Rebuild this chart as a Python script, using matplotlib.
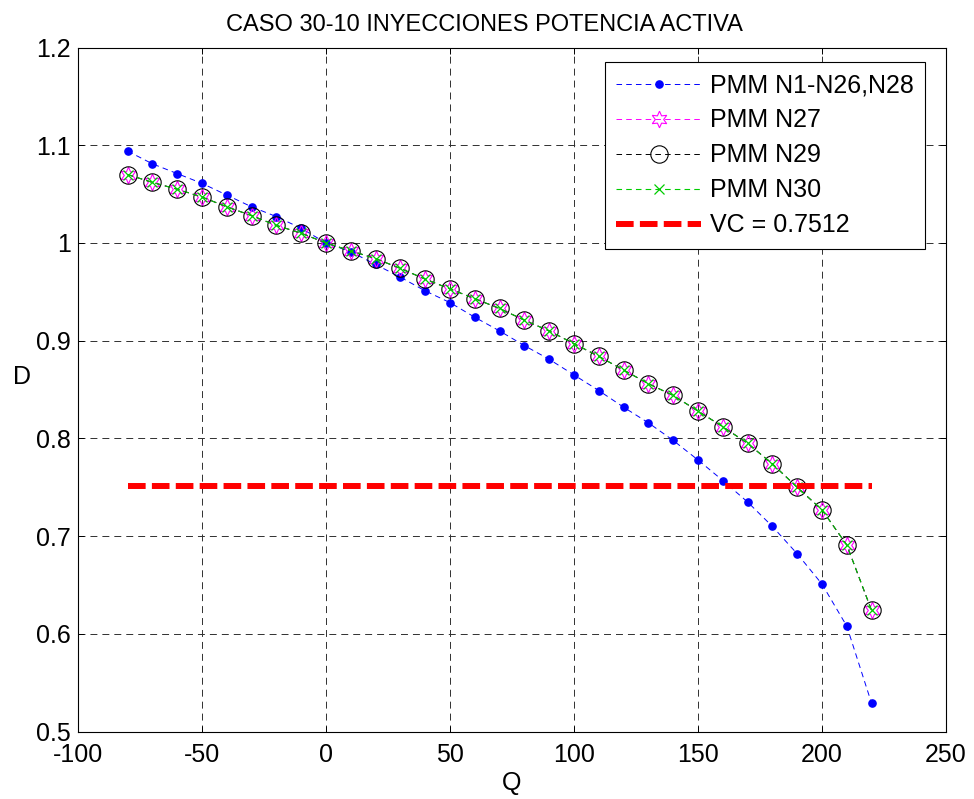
import matplotlib
matplotlib.use("Agg")
import matplotlib.pyplot as plt

plt.rcParams['font.family'] = ['Liberation Sans', 'DejaVu Sans']
plt.rcParams['lines.scale_dashes'] = False
plt.rcParams['axes.unicode_minus'] = False

# Injected active power (Q) and resulting index (D)
q = [-80, -70, -60, -50, -40, -30, -20, -10, 0, 10, 20, 30, 40, 50, 60, 70,
     80, 90, 100, 110, 120, 130, 140, 150, 160, 170, 180, 190, 200, 210, 220]

d_n1_n26_n28 = [1.094, 1.081, 1.071, 1.061, 1.049, 1.037, 1.027, 1.015, 1.000,
                0.991, 0.978, 0.965, 0.951, 0.939, 0.924, 0.910, 0.895, 0.881,
                0.865, 0.849, 0.832, 0.816, 0.798, 0.778, 0.757, 0.735, 0.710,
                0.682, 0.651, 0.608, 0.529]

d_n27 = [1.070, 1.062, 1.055, 1.047, 1.037, 1.028, 1.018, 1.010, 1.000,
         0.992, 0.984, 0.974, 0.963, 0.953, 0.943, 0.933, 0.921, 0.910,
         0.897, 0.884, 0.870, 0.856, 0.844, 0.828, 0.812, 0.795, 0.774,
         0.750, 0.727, 0.691, 0.624]
d_n29 = list(d_n27)
d_n30 = list(d_n27)

vc = 0.7512
vc_span = [-80, 220]

labels = ['PMM N1-N26,N28', 'PMM N27', 'PMM N29', 'PMM N30', 'VC = 0.7512']
xticks = [-100, -50, 0, 50, 100, 150, 200, 250]
yticks = [0.5, 0.6, 0.7, 0.8, 0.9, 1.0, 1.1, 1.2]
yticklabels = ['0.5', '0.6', '0.7', '0.8', '0.9', '1', '1.1', '1.2']

W, H = 974, 799
fig = plt.figure(figsize=(W / 100, H / 100), dpi=100)
ax = fig.add_axes([78 / W, 1 - 731.7 / H, (946 - 78) / W, (731.7 - 47.5) / H])

dash = (0, (4, 3))
ax.plot(q, d_n1_n26_n28, linestyle=dash, color='#0000ff', lw=0.7,
        marker='o', markersize=5.2, mfc='#0000ff', mec='#0000ff', label=labels[0])
ax.plot(q, d_n27, linestyle=dash, color='#ff00ff', lw=0.7,
        marker=(6, 1, 0), markersize=12, mfc='none', mec='#ff00ff', mew=0.8,
        label=labels[1])
ax.plot(q, d_n29, linestyle=dash, color='black', lw=0.7,
        marker='o', markersize=12.5, mfc='none', mec='black', mew=0.8,
        label=labels[2])
ax.plot(q, d_n30, linestyle=dash, color='#00cc00', lw=0.8,
        marker='x', markersize=7, mec='#00cc00', mew=0.9, label=labels[3])
ax.plot(vc_span, [vc, vc], linestyle=(0, (12.7, 4.5)), color='#ff0000', lw=4.3,
        label=labels[4])

ax.set_xlim(-100, 250)
ax.set_ylim(0.5, 1.2)
ax.set_xticks(xticks)
ax.set_yticks(yticks)
ax.set_yticklabels(yticklabels)

ax.grid(True, color='#303030', linestyle=(0, (5, 3.6)), lw=0.7)
for s in ax.spines.values():
    s.set_linewidth(0.8)
ax.tick_params(direction='in', length=4.5, width=0.7, top=True, right=True,
               labelsize=18)
ax.tick_params(axis='x', pad=8)
ax.tick_params(axis='y', pad=5)

fig.text(484.5 / W, 1 - 31 / H, 'CASO 30-10 INYECCIONES POTENCIA ACTIVA',
         fontsize=17, ha='center', va='baseline')
fig.text(512 / W, 1 - 783 / H, 'Q', fontsize=18, ha='center', va='center')
fig.text(22 / W, 1 - 377 / H, 'D', fontsize=18, ha='center', va='center')

leg = ax.legend(loc='upper right', bbox_to_anchor=(925 / W, 1 - 62 / H),
                bbox_transform=fig.transFigure, fontsize=18, frameon=True,
                fancybox=False, edgecolor='black', framealpha=1,
                handlelength=3.4, handletextpad=0.35, labelspacing=0.44,
                borderaxespad=0, borderpad=0.45)
leg.get_frame().set_linewidth(0.8)

fig.savefig('out.png', dpi=100)
